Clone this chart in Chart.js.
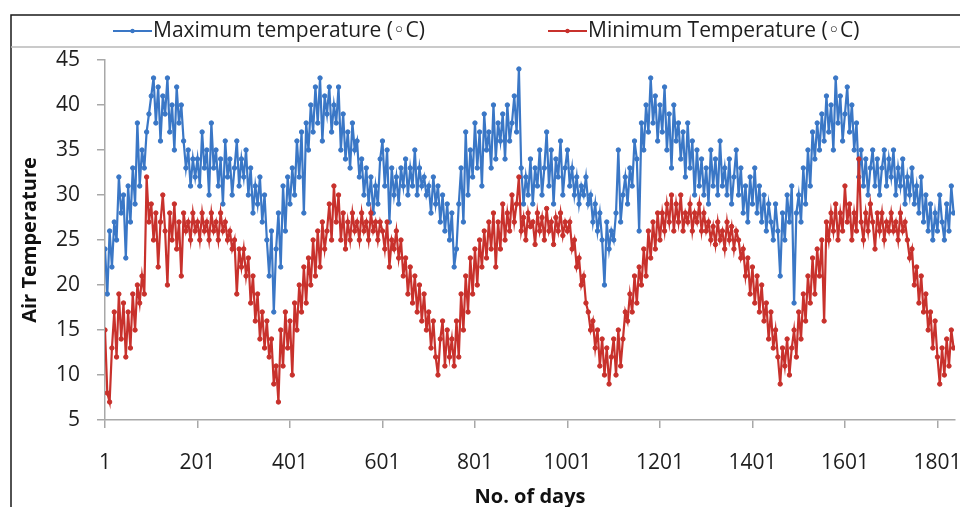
<!DOCTYPE html>
<html>
<head>
<meta charset="utf-8">
<script src="https://cdn.jsdelivr.net/npm/chart.js@4.4.0/dist/chart.umd.min.js"></script>
<style>
  html, body { margin: 0; padding: 0; background: #fff; }
</style>
</head>
<body>
<canvas id="tempChart" width="960" height="507"></canvas>
<script>
// one reading every 5 days, starting on day 1
const firstDay = 1;
const dayStep = 5;

const maxTemp = [
  24,19,26,22,27,25,32,28,30,23,31,27,33,29,38,31,35,33,37,39,
  41,43,38,42,36,41,39,43,37,40,35,42,38,40,36,33,35,31,34,32,
  34,31,37,33,35,30,38,33,35,31,34,29,36,32,34,30,33,36,31,34,
  32,35,30,33,28,31,29,32,27,30,25,21,26,17,24,28,22,31,26,32,
  29,33,30,36,32,37,28,38,35,40,37,42,38,43,36,41,39,42,37,40,
  38,42,35,39,34,37,33,38,35,36,32,34,30,33,29,32,28,31,29,34,
  36,31,35,27,33,30,32,29,33,31,34,30,33,31,35,30,33,31,32,30,
  31,28,32,29,31,27,30,26,29,25,28,22,24,29,33,27,37,30,35,32,
  38,33,37,31,39,35,37,33,40,34,38,36,39,34,40,36,38,41,37,44,
  33,29,32,30,34,29,33,31,35,30,33,37,31,35,29,34,32,36,30,33,
  35,31,33,30,32,29,31,30,32,29,30,27,29,26,28,25,20,27,24,26,
  25,28,35,27,30,32,29,33,31,36,34,26,38,35,40,37,43,38,41,36,
  40,37,42,35,39,33,40,36,38,34,37,32,38,33,36,30,35,31,34,30,
  33,29,35,31,34,30,36,31,33,30,34,29,32,35,30,33,28,31,27,32,
  29,33,28,31,27,30,26,29,27,25,29,26,21,28,25,30,27,31,18,28,
  30,27,33,29,35,31,37,34,38,35,39,36,41,37,40,35,43,38,41,36,
  39,42,37,40,35,38,32,35,31,34,30,33,35,31,34,30,33,35,31,34,
  32,35,30,33,31,34,29,32,30,33,29,31,28,32,27,30,26,29,25,28,
  26,30,27,25,29,26,31,28
];

const minTemp = [
  15,8,7,13,17,12,19,14,18,12,17,13,19,15,20,18,21,19,32,27,
  29,25,28,22,27,30,26,20,28,25,29,24,27,21,28,26,27,25,28,26,
  27,25,28,26,27,25,28,26,27,25,28,26,27,25,26,24,25,19,24,22,
  24,21,23,18,21,16,19,14,17,13,16,12,14,9,11,7,15,11,17,13,
  16,10,18,15,20,17,22,18,23,20,25,21,26,22,27,24,26,29,25,31,
  27,30,25,28,24,27,25,28,26,27,25,28,26,27,25,28,26,27,25,27,
  26,24,27,22,25,24,26,23,25,21,23,19,22,18,21,17,20,16,19,15,
  17,13,16,12,10,14,16,11,15,12,14,11,16,12,19,15,21,17,23,19,
  24,20,25,22,26,23,27,24,28,22,27,24,29,25,28,26,30,27,29,32,
  26,27.5,25,28,26.5,27,24.5,28,26,27.5,25,28.5,26,27,24.5,27.5,26,28,25.5,27,
  26,27,24,25,22,23,20,21,18,17,15,16,13,15,11,14,10,13,9,12,
  14,10,15,11,14,17,16,19,17,21,18,22,20,24,21,26,23,27,24,28,
  25,28,26,29,27,30,26,29,27,30,26,28,27,29,26,28,27,29,26,28,
  26,27,25,26.5,24.5,27,25,26,24,27,25,26.5,24,26,25,23,24,21,23,19,
  22,18,21,17,20,16,18,14,17,13,15,12,9,13,11,14,10,13,15,12,
  17,14,19,16,21,18,23,19,24,21,25,16,27,25,28,26,29,25,28,26,
  31,27,29,25,28,26,34,27,25,28,26,29,27,24,28,26,28,25,27,26,
  28,26,27,25,28,26,27,25,23,24,20,22,18,21,17,19,15,17,13,16,
  12,9,13,10,14,11,15,13
];

const xTickLabels = [1, 201, 401, 601, 801, 1001, 1201, 1401, 1601, 1801];
const yTickLabels = [5, 10, 15, 20, 25, 30, 35, 40, 45];

const days = maxTemp.map((_, i) => firstDay + i * dayStep);
const toPoints = arr => arr.map((v, i) => ({ x: days[i], y: v }));

const FONT = "'Open Sans', 'DejaVu Sans', sans-serif";
const BLUE = '#3a77c6';
const RED = '#c8312c';

// white page, outer frame and the legend row
const framePlugin = {
  id: 'frame',
  beforeDraw(chart) {
    const ctx = chart.ctx;
    ctx.save();
    ctx.fillStyle = '#fff';
    ctx.fillRect(0, 0, chart.width, chart.height);
    ctx.restore();
  },
  afterDraw(chart) {
    const ctx = chart.ctx;
    ctx.save();
    ctx.strokeStyle = '#1a1a1a';
    ctx.lineWidth = 1.5;
    ctx.beginPath();
    ctx.moveTo(11, chart.height);
    ctx.lineTo(11, 15);
    ctx.lineTo(chart.width, 15);
    ctx.stroke();
    ctx.strokeStyle = '#b8b8b8';
    ctx.beginPath();
    ctx.moveTo(11, 47);
    ctx.lineTo(chart.width, 47);
    ctx.stroke();

    const sampleX = [113, 548];
    ctx.font = '21px ' + FONT;
    ctx.textBaseline = 'middle';
    chart.data.datasets.forEach((ds, i) => {
      const x0 = sampleX[i], y0 = 31;
      ctx.strokeStyle = ds.borderColor;
      ctx.lineWidth = 2;
      ctx.beginPath();
      ctx.moveTo(x0, y0);
      ctx.lineTo(x0 + 39, y0);
      ctx.stroke();
      ctx.fillStyle = ds.borderColor;
      ctx.beginPath();
      ctx.arc(x0 + 19.5, y0, 2.2, 0, Math.PI * 2);
      ctx.fill();
      ctx.fillStyle = '#1e1e1e';
      ctx.fillText(ds.label, x0 + 40, y0);
    });
    ctx.restore();
  }
};

new Chart(document.getElementById('tempChart'), {
  type: 'line',
  data: {
    datasets: [
      {
        label: 'Maximum temperature (◦C)',
        data: toPoints(maxTemp),
        borderColor: BLUE,
        backgroundColor: BLUE,
        borderWidth: 2.2,
        pointRadius: 2.2,
        pointBorderWidth: 1,
        pointBackgroundColor: BLUE,
        order: 2
      },
      {
        label: 'Minimum Temperature (◦C)',
        data: toPoints(minTemp),
        borderColor: RED,
        backgroundColor: RED,
        borderWidth: 2.2,
        pointRadius: 2.2,
        pointBorderWidth: 1,
        pointBackgroundColor: RED,
        order: 1
      }
    ]
  },
  options: {
    responsive: false,
    animation: false,
    devicePixelRatio: 1,
    layout: { padding: { top: 60, left: 0, right: 0, bottom: 0 } },
    plugins: {
      legend: { display: false },
      tooltip: { enabled: false }
    },
    scales: {
      x: {
        type: 'linear',
        min: 1,
        max: 1839,
        afterBuildTicks: s => { s.ticks = xTickLabels.map(v => ({ value: v })); },
        afterFit: s => { s.height = 87; s.paddingLeft = 0; s.paddingRight = 0; },
        grid: { drawOnChartArea: false, tickLength: 8, color: '#a8a8a8', lineWidth: 1.5 },
        border: { display: true, color: '#a8a8a8', width: 1.5 },
        ticks: {
          autoSkip: false,
          maxRotation: 0,
          padding: 22,
          color: '#1e1e1e',
          font: { family: FONT, size: 21 },
          callback: v => String(v)
        },
        title: {
          display: true,
          text: 'No. of days',
          color: '#111',
          font: { family: FONT, size: 20, weight: 'bold', lineHeight: 1 },
          padding: { top: 0, bottom: 0 }
        }
      },
      y: {
        min: 5,
        max: 45,
        afterBuildTicks: s => { s.ticks = yTickLabels.map(v => ({ value: v })); },
        afterFit: s => { s.width = 105; s.paddingTop = 0; s.paddingBottom = 0; },
        grid: { drawOnChartArea: false, tickLength: 8, color: '#a8a8a8', lineWidth: 1.5 },
        border: { display: true, color: '#a8a8a8', width: 1.5 },
        ticks: {
          padding: 17,
          color: '#1e1e1e',
          font: { family: FONT, size: 21 },
          callback: v => String(v)
        },
        title: {
          display: true,
          text: 'Air Temperature',
          color: '#111',
          font: { family: FONT, size: 20, weight: 'bold', lineHeight: 1 },
          padding: { top: 20, bottom: 0 }
        }
      }
    }
  },
  plugins: [framePlugin]
});
</script>
</body>
</html>
